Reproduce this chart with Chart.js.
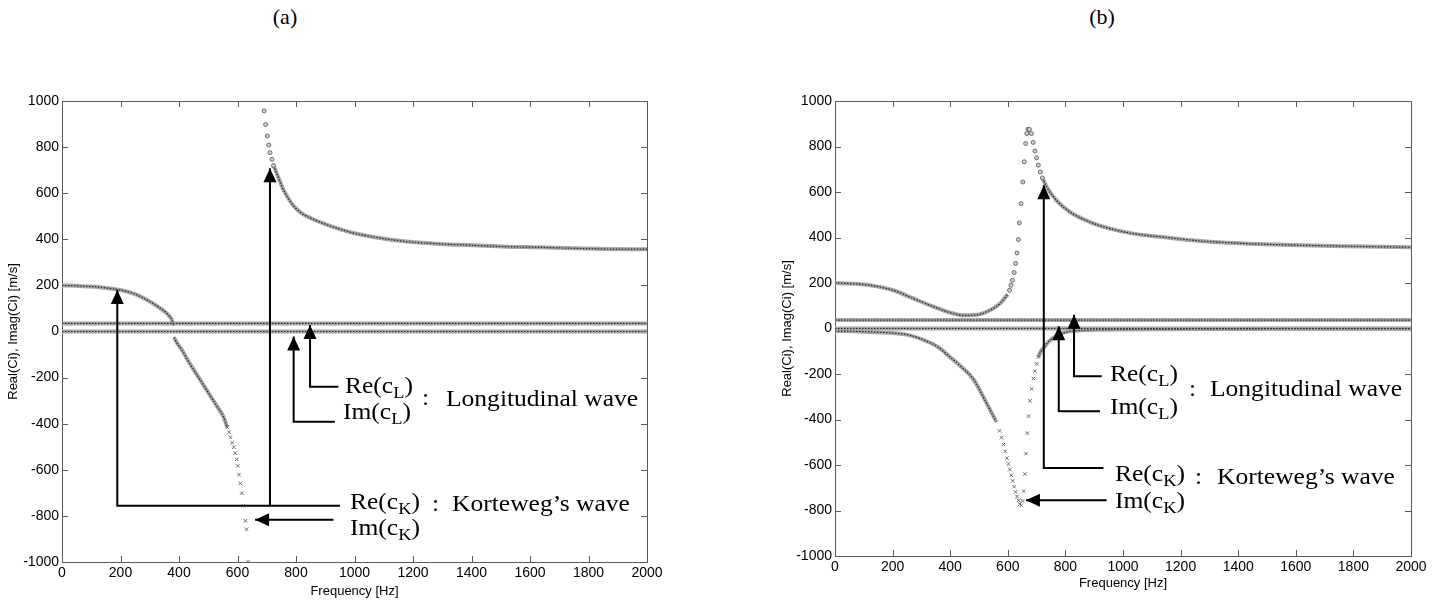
<!DOCTYPE html>
<html>
<head>
<meta charset="utf-8">
<script src="https://cdn.jsdelivr.net/npm/chart.js@4.4.1/dist/chart.umd.min.js"></script>
<style>
  body { margin: 0; width: 1443px; height: 604px; background: #fff; position: relative; overflow: hidden; font-family: "Liberation Serif", "Times New Roman", serif; }
  canvas { position: absolute; top: 0; }
  #chartA { left: 0; }
  #chartB { left: 770px; }
  .t { position: absolute; font-size: 23px; line-height: 23px; white-space: nowrap; transform: scaleX(1.11); transform-origin: 0 0; color: #000; }
  .t sub { font-size: 0.72em; vertical-align: -0.28em; line-height: 0; }
  .panel { position: absolute; top: 6px; font-size: 22px; line-height: 22px; transform: translateX(-50%); }
</style>
</head>
<body>
<div class="panel" style="left:285px">(a)</div>
<div class="panel" style="left:1102px">(b)</div>
<canvas id="chartA" width="720" height="604"></canvas>
<canvas id="chartB" width="673" height="604"></canvas>

<div class="t" style="left:345px;top:374px">Re(c<sub>L</sub>)</div>
<div class="t" style="left:343px;top:400px">Im(c<sub>L</sub>)</div>
<div class="t" style="left:422px;top:386px">:</div>
<div class="t" style="left:446px;top:387px">Longitudinal wave</div>
<div class="t" style="left:350px;top:490px">Re(c<sub>K</sub>)</div>
<div class="t" style="left:432px;top:492px">:</div>
<div class="t" style="left:452px;top:492px">Korteweg’s wave</div>
<div class="t" style="left:350px;top:516px">Im(c<sub>K</sub>)</div>

<div class="t" style="left:1110px;top:362px">Re(c<sub>L</sub>)</div>
<div class="t" style="left:1110px;top:395px">Im(c<sub>L</sub>)</div>
<div class="t" style="left:1189px;top:377px">:</div>
<div class="t" style="left:1210px;top:377px">Longitudinal wave</div>
<div class="t" style="left:1115px;top:462px">Re(c<sub>K</sub>)</div>
<div class="t" style="left:1195px;top:465px">:</div>
<div class="t" style="left:1217px;top:465px">Korteweg’s wave</div>
<div class="t" style="left:1115px;top:489px">Im(c<sub>K</sub>)</div>

<script>
// frequency span of the flat curves
const freqSpan = [0, 2000];

// ---- panel (a) ----
const reCL_a = [35, 35];
const imCL_a = [0, 0];

const reCK_a_lowF = [0, 50, 100, 150, 200, 250, 300, 330, 350, 365, 375, 383];
const reCK_a_lowV = [200, 198, 195, 189, 180, 162, 130, 106, 88, 70, 52, 25];

const reCK_a_peakF = [691, 696, 702, 707, 711, 718, 723];
const reCK_a_peakV = [957, 898, 848, 809, 776, 747, 720];

const reCK_a_highF = [723, 740, 757, 775, 791, 820, 859, 900, 950, 1000, 1064, 1178, 1292, 1406, 1520, 1634, 1748, 1862, 2000];
const reCK_a_highV = [720, 668, 614, 575, 546, 512, 487, 466, 444, 426, 410, 390, 380, 374, 368, 365, 361, 358, 357];

const imCK_a_bandF = [383, 392, 410, 430, 455, 480, 505, 530, 552, 565];
const imCK_a_bandV = [-25, -48, -80, -125, -175, -225, -275, -325, -370, -416];

const imCK_a_tailF = [565, 571, 576, 582, 587, 592, 597, 601, 605, 610, 615, 620, 627, 631, 636];
const imCK_a_tailV = [-416, -437, -459, -482, -502, -528, -555, -583, -621, -659, -702, -756, -821, -858, -999];

// ---- panel (b) ----
const reCL_b = [37, 37];
const imCL_b = [0, 0];

const reCK_b_lowF = [0, 60, 121, 202, 272, 342, 399, 446, 492, 538, 573, 600];
const reCK_b_lowV = [200, 197, 190, 168, 132, 96, 70, 58, 60, 80, 110, 150];

const reCK_b_peakF = [606, 611, 616, 622, 627, 632, 637, 640, 646, 652, 657, 662, 666, 670, 675, 682, 688, 694, 700, 706, 713, 720];
const reCK_b_peakV = [168, 190, 212, 246, 286, 332, 391, 464, 549, 644, 733, 813, 857, 876, 875, 857, 818, 780, 750, 718, 688, 662];

const reCK_b_highF = [720, 735, 769, 816, 885, 955, 1036, 1152, 1267, 1383, 1499, 1615, 1730, 1846, 2000];
const reCK_b_highV = [662, 622, 563, 512, 468, 439, 417, 400, 385, 376, 370, 366, 363, 360, 357];

const imCK_b_leftF = [0, 60, 121, 191, 260, 309, 356, 399, 440, 480, 527, 560];
const imCK_b_leftV = [-11, -12, -15, -19, -30, -51, -80, -125, -170, -222, -330, -410];

const imCK_b_dipF = [571, 578, 585, 591, 597, 602, 607, 612, 617, 622, 627, 632, 637, 642, 647,
                     651, 655, 659, 663, 668, 672, 677, 683, 689, 694, 700, 706];
const imCK_b_dipV = [-450, -480, -510, -540, -570, -595, -620, -645, -670, -695, -718, -738, -755, -772, -778,
                     -758, -715, -640, -550, -460, -385, -318, -265, -220, -187, -155, -125];

const imCK_b_rightF = [706, 715, 725, 740, 769, 804, 850, 900, 1000, 1100, 1300, 1600, 2000];
const imCK_b_rightV = [-125, -100, -85, -60, -32, -15, -9, -6, -4, -3, -2, -1, -1];

// annotation arrows, in axis units (last point is the arrow tip)
const arrowsA = [
  [[945, -240], [848, -240], [848, 28]],
  [[933, -391], [792, -391], [792, -22]],
  [[950, -756], [711, -756], [711, 708]],
  [[711, -756], [189, -756], [189, 180]],
  [[928, -817], [660, -817]],
];
const arrowsB = [
  [[926, -210], [830, -210], [830, 60]],
  [[920, -364], [777, -364], [777, 10]],
  [[932, -613], [725, -613], [725, 630]],
  [[943, -755], [663, -755]],
];

Chart.defaults.font.family = '"Liberation Sans", Arial, sans-serif';
Chart.defaults.color = '#000';

const xy = (fs, vs) => fs.map((f, i) => ({ x: f, y: vs[i] }));

// densely sampled parts look like a grey band with dark dots
function band(fs, vs) {
  const data = xy(fs, vs);
  return [
    { data, showLine: true, pointRadius: 0, borderColor: '#a6a6a6', borderWidth: 4, cubicInterpolationMode: 'monotone', order: 2 },
    { data, showLine: true, pointRadius: 0, borderColor: '#2a2a2a', borderWidth: 1.2, borderDash: [1.5, 1.5], cubicInterpolationMode: 'monotone', order: 1 },
  ];
}

function marks(fs, vs, style) {
  return {
    data: xy(fs, vs), showLine: false, pointStyle: style,
    pointRadius: style === 'crossRot' ? 2.5 : 2, borderWidth: 1,
    borderColor: '#6a6a6a', backgroundColor: '#cfcfcf', order: 1,
  };
}

const frame = {
  id: 'frame',
  beforeDatasetsDraw(chart) {
    const { ctx, chartArea: a, scales: { x, y } } = chart;
    ctx.save();
    ctx.strokeStyle = '#5a5a5a';
    ctx.lineWidth = 1;
    ctx.strokeRect(a.left + 0.5, a.top + 0.5, a.width, a.height);
    ctx.beginPath();
    x.ticks.forEach(t => {
      const px = Math.round(x.getPixelForValue(t.value)) + 0.5;
      ctx.moveTo(px, a.bottom); ctx.lineTo(px, a.bottom - 6);
      ctx.moveTo(px, a.top); ctx.lineTo(px, a.top + 6);
    });
    y.ticks.forEach(t => {
      const py = Math.round(y.getPixelForValue(t.value)) + 0.5;
      ctx.moveTo(a.left, py); ctx.lineTo(a.left + 6, py);
      ctx.moveTo(a.right, py); ctx.lineTo(a.right - 6, py);
    });
    ctx.stroke();
    ctx.restore();
  }
};

const arrowPlugin = {
  id: 'arrows',
  afterDatasetsDraw(chart, args, opts) {
    const { ctx, scales: { x, y } } = chart;
    ctx.save();
    ctx.strokeStyle = '#000';
    ctx.fillStyle = '#000';
    ctx.lineWidth = 2;
    (opts.paths || []).forEach(path => {
      const p = path.map(([f, v]) => [x.getPixelForValue(f), y.getPixelForValue(v)]);
      ctx.beginPath();
      ctx.moveTo(p[0][0], p[0][1]);
      p.slice(1).forEach(q => ctx.lineTo(q[0], q[1]));
      ctx.stroke();
      const [tx, ty] = p[p.length - 1];
      const [sx, sy] = p[p.length - 2];
      const ang = Math.atan2(ty - sy, tx - sx);
      const len = 14, half = 6.5;
      const bx = tx - len * Math.cos(ang), by = ty - len * Math.sin(ang);
      ctx.beginPath();
      ctx.moveTo(tx, ty);
      ctx.lineTo(bx + half * Math.sin(ang), by - half * Math.cos(ang));
      ctx.lineTo(bx - half * Math.sin(ang), by + half * Math.cos(ang));
      ctx.closePath();
      ctx.fill();
    });
    ctx.restore();
  }
};

function makeChart(id, datasets, arrows, g) {
  return new Chart(document.getElementById(id), {
    type: 'scatter',
    data: { datasets },
    options: {
      responsive: false,
      animation: false,
      devicePixelRatio: 1,
      layout: { padding: { left: 0, right: g.padRight, top: 101, bottom: 0 } },
      plugins: { legend: { display: false }, tooltip: { enabled: false }, arrows: { paths: arrows } },
      scales: {
        x: {
          type: 'linear', min: 0, max: 2000,
          ticks: { stepSize: 200, autoSkip: false, maxRotation: 0, padding: 3, font: { size: 14 }, callback: v => String(v) },
          grid: { display: false, drawTicks: false }, border: { display: false },
          title: { display: true, text: 'Frequency [Hz]', font: { size: 13 }, padding: { top: 0, bottom: g.xTitlePad } },
          afterFit: s => { s.height = g.xHeight; },
        },
        y: {
          type: 'linear', min: -1000, max: 1000,
          ticks: { stepSize: 200, autoSkip: false, padding: 3, font: { size: 14 }, callback: v => String(v) },
          grid: { display: false, drawTicks: false }, border: { display: false },
          title: { display: true, text: 'Real(Ci), Imag(Ci) [m/s]', font: { size: 13 }, padding: { top: g.yTitlePad, bottom: 0 } },
          afterFit: s => { s.width = g.yWidth; },
        },
      },
    },
    plugins: [frame, arrowPlugin],
  });
}

makeChart('chartA', [
  ...band(freqSpan, reCL_a),
  ...band(freqSpan, imCL_a),
  ...band(reCK_a_lowF, reCK_a_lowV),
  marks(reCK_a_peakF, reCK_a_peakV, 'circle'),
  ...band(reCK_a_highF, reCK_a_highV),
  ...band(imCK_a_bandF, imCK_a_bandV),
  marks(imCK_a_tailF, imCK_a_tailV, 'crossRot'),
], arrowsA, { padRight: 73, yWidth: 62, xHeight: 42, xTitlePad: 4.5, yTitlePad: 6 });

makeChart('chartB', [
  ...band(freqSpan, reCL_b),
  ...band(freqSpan, imCL_b),
  ...band(reCK_b_lowF, reCK_b_lowV),
  marks(reCK_b_peakF, reCK_b_peakV, 'circle'),
  ...band(reCK_b_highF, reCK_b_highV),
  ...band(imCK_b_leftF, imCK_b_leftV),
  marks(imCK_b_dipF, imCK_b_dipV, 'crossRot'),
  ...band(imCK_b_rightF, imCK_b_rightV),
], arrowsB, { padRight: 32, yWidth: 65, xHeight: 48, xTitlePad: 13, yTitlePad: 9.7 });
</script>
</body>
</html>
